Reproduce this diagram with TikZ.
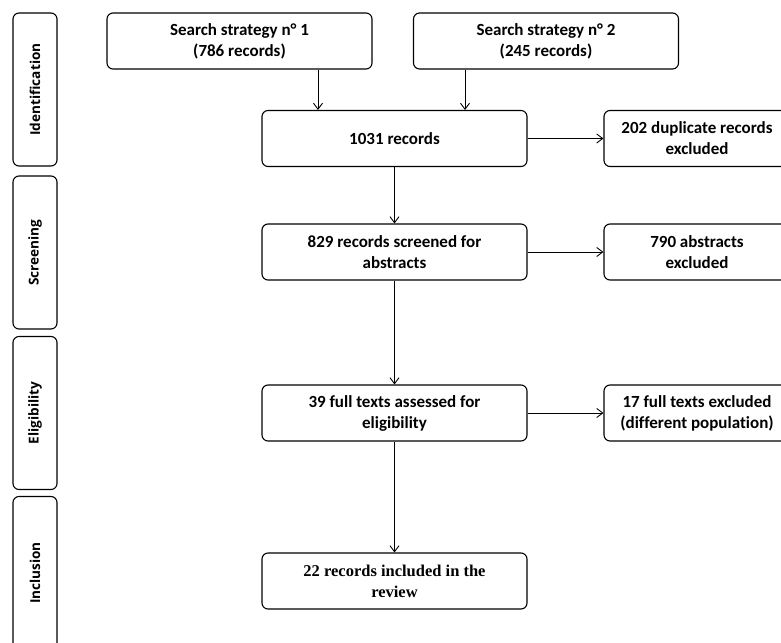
\documentclass[tikz,border=0pt]{standalone}
\usepackage{fontspec}
\setmainfont{Carlito}[Ligatures=NoCommon]
\newfontfamily\phasefont{Open Sans}
\newfontfamily\serifbox{Liberation Serif}
\usetikzlibrary{arrows.meta}

\tikzset{
    box/.style={draw, line width=1.1pt, rounded corners=6pt, align=center,
        minimum width=265pt, minimum height=56pt, inner sep=2pt,
        font=\fontsize{17}{21}\selectfont\bfseries},
    sidebox/.style={box, minimum width=186pt},
    phase/.style={draw, line width=1.1pt, rounded corners=6pt,
        minimum width=44pt, minimum height=153pt, inner sep=0pt},
    phaselabel/.style={rotate=90, font=\phasefont\fontsize{13.6}{16}\selectfont\bfseries},
    arr/.style={-{Straight Barb[length=6pt, width=9pt]}, line width=0.9pt}
}

\begin{document}
\begin{tikzpicture}[x=1pt, y=-1pt]
    \useasboundingbox (0,0) rectangle (781,642);
    \clip (0,0) rectangle (781,642);

    % Fases
    \node[phase] (ident) at (35,89.5) {};
    \node[phaselabel] at (ident.center) {Identification};
    \node[phase] (screen) at (35,252.5) {};
    \node[phaselabel] at (screen.center) {Screening};
    \node[phase] (elig) at (35,413) {};
    \node[phaselabel] at (elig.center) {Eligibility};
    \node[phase] (incl) at (35,573) {};
    \node[phaselabel] at (incl.center) {Inclusion};

    % Cajas principales
    \node[box] (strat1) at (239.5,41) {Search strategy n° 1\\(786 records)};
    \node[box] (strat2) at (546,41) {Search strategy n° 2\\(245 records)};
    \node[box] (rec1031) at (394.5,138.5) {1031 records};
    \node[box] (screened) at (394.5,252) {829 records screened for\\abstracts};
    \node[box] (fulltext) at (394.5,413) {39 full texts assessed for\\eligibility};
    \node[box, font=\serifbox\fontsize{16.5}{21}\selectfont\bfseries] (review) at (394.5,581)
        {22 records included in the\\review};

    % Cajas de exclusiones
    \node[sidebox] (dupl) at (697,138.5) {202 duplicate records\\excluded};
    \node[sidebox] (abstr) at (697,252) {790 abstracts\\excluded};
    \node[sidebox] (fullex) at (697,413) {17 full texts excluded\\(different population)};

    % Flechas
    \draw[arr] ([xshift=78.5pt]strat1.south) -- ([xshift=78.5pt]strat1.south |- rec1031.north);
    \draw[arr] ([xshift=-81pt]strat2.south) -- ([xshift=-81pt]strat2.south |- rec1031.north);
    \draw[arr] (rec1031) -- (dupl);
    \draw[arr] (rec1031) -- (screened);
    \draw[arr] (screened) -- (abstr);
    \draw[arr] (screened) -- (fulltext);
    \draw[arr] (fulltext) -- (fullex);
    \draw[arr] (fulltext) -- (review);
\end{tikzpicture}
\end{document}
